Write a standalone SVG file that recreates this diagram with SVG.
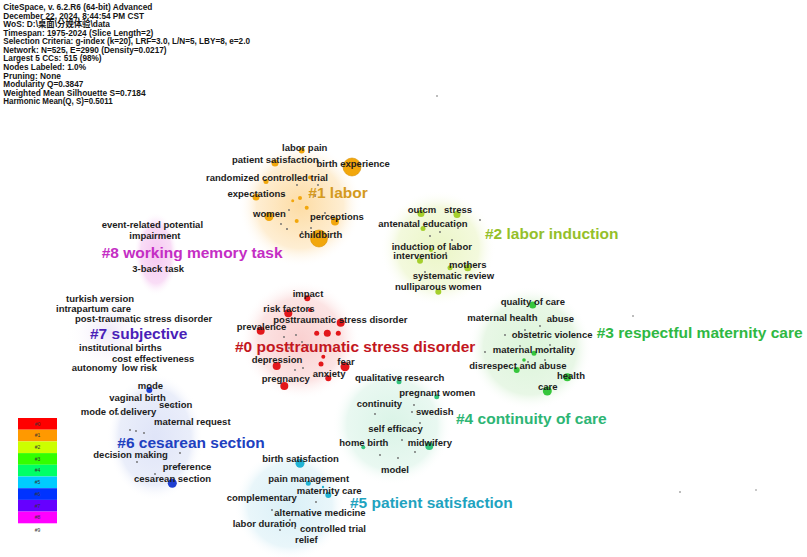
<svg xmlns="http://www.w3.org/2000/svg" width="807" height="557" viewBox="0 0 807 557">
<defs>
<style>
text{font-family:"Liberation Sans",Arial,sans-serif}
.hdr{font-size:8.6px;font-weight:bold;fill:#151515}
.lbl{font-size:9.5px;font-weight:bold;fill:#1c1c1c}
.cl{font-size:15.5px;font-weight:bold}
.d{fill:#6a6a6a}
.n0{fill:#e2171b}.n1{fill:#f2a70c}.n2{fill:#a5cf2c}.n3{fill:#36c63c}.n4{fill:#33c27c}.n5{fill:#22b3d4}.n6{fill:#1f3fd0}.n7{fill:#4a22b8}
.leg{font-size:5px;fill:#333;text-anchor:middle}
</style>
<radialGradient id="g0"><stop offset="0" stop-color="#fad0d0"/><stop offset="0.7" stop-color="#fce4e4"/><stop offset="1" stop-color="#fff" stop-opacity="0"/></radialGradient>
<radialGradient id="g1"><stop offset="0" stop-color="#fddca4"/><stop offset="0.7" stop-color="#feeed3"/><stop offset="1" stop-color="#fff" stop-opacity="0"/></radialGradient>
<radialGradient id="g2"><stop offset="0" stop-color="#ebf6c6"/><stop offset="0.7" stop-color="#f3f9dd"/><stop offset="1" stop-color="#fff" stop-opacity="0"/></radialGradient>
<radialGradient id="g3"><stop offset="0" stop-color="#dcf5da"/><stop offset="0.75" stop-color="#e8f7e6"/><stop offset="1" stop-color="#fff" stop-opacity="0"/></radialGradient>
<radialGradient id="g4"><stop offset="0" stop-color="#daf4e7"/><stop offset="0.75" stop-color="#e9f8f1"/><stop offset="1" stop-color="#fff" stop-opacity="0"/></radialGradient>
<radialGradient id="g5"><stop offset="0" stop-color="#daf0f7"/><stop offset="0.75" stop-color="#e9f6fa"/><stop offset="1" stop-color="#fff" stop-opacity="0"/></radialGradient>
<radialGradient id="g6"><stop offset="0" stop-color="#dfe4f8"/><stop offset="0.75" stop-color="#eaeefa"/><stop offset="1" stop-color="#fff" stop-opacity="0"/></radialGradient>
<radialGradient id="g7"><stop offset="0" stop-color="#eee7f8"/><stop offset="1" stop-color="#fff" stop-opacity="0"/></radialGradient>
<radialGradient id="g8"><stop offset="0" stop-color="#f6c8f2"/><stop offset="0.7" stop-color="#f9ddf6"/><stop offset="1" stop-color="#fff" stop-opacity="0"/></radialGradient>
</defs>
<rect width="807" height="557" fill="#ffffff"/>

<g id="header">
<text class="hdr" x="3.3" y="10" textLength="149" lengthAdjust="spacingAndGlyphs">CiteSpace, v. 6.2.R6 (64-bit) Advanced</text>
<text class="hdr" x="3.3" y="18.5" textLength="140.7" lengthAdjust="spacingAndGlyphs">December 22, 2024, 8:44:54 PM CST</text>
<text class="hdr" x="3.3" y="27" textLength="106.7" lengthAdjust="spacingAndGlyphs" style="font-family:'Liberation Sans','Noto Sans CJK SC',sans-serif">WoS: D:\桌面\分娩体验\data</text>
<text class="hdr" x="3.3" y="35.6" textLength="150" lengthAdjust="spacingAndGlyphs">Timespan: 1975-2024 (Slice Length=2)</text>
<text class="hdr" x="3.3" y="44.2" textLength="246.7" lengthAdjust="spacingAndGlyphs">Selection Criteria: g-index (k=20), LRF=3.0, L/N=5, LBY=8, e=2.0</text>
<text class="hdr" x="3.3" y="52.7" textLength="163.3" lengthAdjust="spacingAndGlyphs">Network: N=525, E=2990 (Density=0.0217)</text>
<text class="hdr" x="3.3" y="61.3" textLength="98.3" lengthAdjust="spacingAndGlyphs">Largest 5 CCs: 515 (98%)</text>
<text class="hdr" x="3.3" y="69.9" textLength="82.7" lengthAdjust="spacingAndGlyphs">Nodes Labeled: 1.0%</text>
<text class="hdr" x="3.3" y="78.5" textLength="57.7" lengthAdjust="spacingAndGlyphs">Pruning: None</text>
<text class="hdr" x="3.3" y="87" textLength="80" lengthAdjust="spacingAndGlyphs">Modularity Q=0.3847</text>
<text class="hdr" x="3.3" y="95.6" textLength="142.3" lengthAdjust="spacingAndGlyphs">Weighted Mean Silhouette S=0.7184</text>
<text class="hdr" x="3.3" y="104.2" textLength="109.3" lengthAdjust="spacingAndGlyphs">Harmonic Mean(Q, S)=0.5011</text>
</g>

<g id="cluster-areas">
<circle cx="300" cy="205" r="62" fill="url(#g1)"/>
<circle cx="438" cy="248" r="58" fill="url(#g2)"/>
<circle cx="530" cy="348" r="62" fill="url(#g3)"/>
<circle cx="300" cy="340" r="60" fill="url(#g0)"/>
<circle cx="392" cy="425" r="60" fill="url(#g4)"/>
<circle cx="290" cy="505" r="56" fill="url(#g5)"/>
<ellipse cx="155" cy="437" rx="48" ry="64" fill="url(#g6)"/>
<circle cx="108" cy="332" r="42" fill="url(#g7)"/>
<ellipse cx="156" cy="254" rx="22" ry="42" fill="url(#g8)"/>
</g>

<g id="connectors"></g>

<g id="minor-nodes">
<circle class="n1" cx="300" cy="198" r="2"/><circle class="n1" cx="306.7" cy="207.7" r="2"/><circle class="n1" cx="296.7" cy="221" r="2"/><circle class="n1" cx="292.7" cy="200.7" r="1.5"/><circle class="n1" cx="310" cy="177.5" r="2"/>
<circle class="d" cx="287" cy="229" r="1"/><circle class="d" cx="281" cy="224" r="0.9"/><circle class="d" cx="315" cy="196" r="0.9"/><circle class="d" cx="325" cy="213" r="0.9"/><circle class="d" cx="289" cy="210" r="0.9"/><circle class="d" cx="297" cy="185" r="0.9"/><circle class="d" cx="311" cy="228" r="0.9"/><circle class="d" cx="284" cy="195" r="0.9"/><circle class="d" cx="318" cy="185" r="0.9"/><circle class="d" cx="302" cy="232" r="0.9"/>
<circle class="n2" cx="431" cy="250" r="2"/><circle class="d" cx="430" cy="236" r="0.9"/><circle class="d" cx="440" cy="232" r="0.9"/><circle class="d" cx="452" cy="240" r="0.9"/><circle class="d" cx="446" cy="253" r="0.9"/><circle class="d" cx="415" cy="245" r="0.9"/><circle class="d" cx="458" cy="228" r="0.9"/><circle class="d" cx="425" cy="272" r="0.9"/><circle class="d" cx="480" cy="220" r="0.9"/>
<circle class="d" cx="525" cy="330" r="0.9"/><circle class="d" cx="540" cy="326" r="0.9"/><circle class="d" cx="520" cy="346" r="0.9"/><circle class="d" cx="550" cy="345" r="0.9"/><circle class="d" cx="528" cy="362" r="0.9"/><circle class="d" cx="545" cy="360" r="0.9"/><circle class="d" cx="505" cy="335" r="0.9"/><circle class="d" cx="485" cy="352" r="0.9"/><circle class="n3" cx="524" cy="360" r="1.8"/>
<circle class="n0" cx="316.7" cy="333.3" r="2.5"/><circle class="n0" cx="327.3" cy="333.3" r="3.5"/><circle class="n0" cx="338.3" cy="333.3" r="2.5"/><circle class="n0" cx="321" cy="364" r="2.5"/><circle class="n0" cx="323.3" cy="356.7" r="2"/><circle class="n0" cx="310" cy="310" r="2"/>
<circle class="d" cx="296" cy="335" r="0.9"/><circle class="d" cx="302" cy="342" r="0.9"/><circle class="d" cx="289" cy="348" r="0.9"/><circle class="d" cx="308" cy="345" r="0.9"/><circle class="d" cx="295" cy="370" r="0.9"/><circle class="d" cx="303" cy="368" r="0.9"/><circle class="d" cx="284" cy="337" r="0.9"/><circle class="d" cx="313" cy="322" r="0.9"/>
<circle class="d" cx="414" cy="405" r="0.9"/><circle class="d" cx="412" cy="412" r="0.9"/><circle class="d" cx="420" cy="423" r="0.9"/><circle class="d" cx="397" cy="430" r="0.9"/><circle class="d" cx="402" cy="440" r="0.9"/><circle class="d" cx="380" cy="455" r="0.9"/><circle class="d" cx="398" cy="458" r="0.9"/><circle class="d" cx="415" cy="452" r="0.9"/><circle class="d" cx="375" cy="414" r="0.9"/>
<circle class="n5" cx="323" cy="487" r="1.2"/><circle class="d" cx="316" cy="502" r="0.9"/><circle class="d" cx="290" cy="520" r="0.9"/><circle class="d" cx="305" cy="515" r="0.9"/><circle class="d" cx="280" cy="530" r="0.9"/><circle class="d" cx="295" cy="528" r="0.9"/><circle class="d" cx="272" cy="510" r="0.9"/>
<circle class="d" cx="173" cy="406" r="1"/><circle class="d" cx="118" cy="414" r="1"/><circle class="d" cx="130" cy="430" r="0.9"/><circle class="d" cx="136" cy="431" r="0.9"/><circle class="d" cx="144" cy="433" r="0.9"/><circle class="d" cx="180" cy="453" r="0.9"/><circle class="d" cx="178" cy="466" r="0.9"/><circle class="d" cx="155" cy="474" r="0.9"/><circle class="d" cx="137" cy="462" r="0.9"/>
<circle class="d" cx="100.7" cy="301" r="1"/><circle class="d" cx="75" cy="308.3" r="1"/><circle class="d" cx="135" cy="321.7" r="1"/><circle class="d" cx="147.3" cy="367.7" r="1"/>
<circle class="d" cx="437" cy="96" r="0.8"/><circle class="d" cx="633" cy="316" r="0.8"/><circle class="d" cx="680" cy="492" r="0.8"/><circle class="d" cx="756" cy="490" r="0.7"/>
</g>

<g id="n-labor-pain"><circle class="n1" cx="301.7" cy="150.5" r="3"/><text class="lbl" x="282" y="150.5">labor pain</text></g>
<g id="n-patient-satisfaction"><circle class="n1" cx="275" cy="163" r="3.5"/><text class="lbl" x="232" y="162.5">patient satisfaction</text></g>
<g id="n-birth-experience"><circle class="n1" cx="352" cy="167" r="9" stroke="#d99000" stroke-width="0.6"/><text class="lbl" x="316.5" y="167">birth experience</text></g>
<g id="n-randomized-controlled-trial"><circle class="n1" cx="266" cy="181.5" r="2.5"/><text class="lbl" x="206" y="181">randomized controlled trial</text></g>
<g id="n-expectations"><circle class="n1" cx="256" cy="197" r="3.5"/><text class="lbl" x="227.5" y="196.5">expectations</text></g>
<g id="n-women"><circle class="n1" cx="269" cy="216.5" r="4.5"/><text class="lbl" x="253" y="216.5">women</text></g>
<g id="n-perceptions"><circle class="n1" cx="335" cy="221.5" r="4"/><text class="lbl" x="310" y="220">perceptions</text></g>
<g id="n-childbirth"><circle class="n1" cx="319" cy="238.5" r="8.5" stroke="#d99000" stroke-width="0.6"/><text class="lbl" x="299" y="237.5">childbirth</text></g>
<g id="c1"><text class="cl" x="308.3" y="198.3" fill="#d49a20">#1 labor</text></g>

<g id="n-outcm"><circle class="n2" cx="421" cy="213.5" r="3.5"/><text class="lbl" x="407.7" y="212.5">outcm</text></g>
<g id="n-stress"><circle class="n2" cx="457" cy="214.5" r="3.5"/><text class="lbl" x="444" y="212.7">stress</text></g>
<g id="n-antenatal-education"><circle class="n2" cx="423" cy="228.5" r="2.5"/><text class="lbl" x="378.3" y="227.3">antenatal education</text></g>
<g id="n-induction-of-labor"><text class="lbl" x="391.7" y="249.5">induction of labor</text></g>
<g id="n-intervention"><circle class="n2" cx="420" cy="260.7" r="3"/><text class="lbl" x="393.3" y="259.3">intervention</text></g>
<g id="n-mothers"><circle class="n2" cx="450" cy="267.7" r="2.5"/><circle class="n2" cx="467.7" cy="267.7" r="3.5"/><text class="lbl" x="449" y="267.5">mothers</text></g>
<g id="n-systematic-review"><text class="lbl" x="412.7" y="279">systematic review</text></g>
<g id="n-nulliparous-women"><circle class="n2" cx="438.3" cy="291.7" r="3"/><text class="lbl" x="395" y="290">nulliparous women</text></g>
<g id="c2"><text class="cl" x="485" y="239" fill="#95bf2a">#2 labor induction</text></g>

<g id="n-quality-of-care"><circle class="n3" cx="532.7" cy="305" r="3.5"/><text class="lbl" x="500.7" y="305">quality of care</text></g>
<g id="n-maternal-health"><text class="lbl" x="467.3" y="321">maternal health</text></g>
<g id="n-abuse"><text class="lbl" x="546.7" y="321.5">abuse</text></g>
<g id="n-obstetric-violence"><text class="lbl" x="511.7" y="338.3">obstetric violence</text></g>
<g id="n-maternal-mortality"><circle class="n3" cx="534" cy="353.3" r="2.5"/><text class="lbl" x="492.7" y="353.3">maternal mortality</text></g>
<g id="n-disrespect-and-abuse"><circle class="n3" cx="516.7" cy="370" r="3"/><text class="lbl" x="469.3" y="368.8">disrespect and abuse</text></g>
<g id="n-health"><circle class="n3" cx="567.3" cy="377.3" r="4"/><text class="lbl" x="557" y="378.5">health</text></g>
<g id="n-care"><circle class="n3" cx="547.3" cy="391" r="4.5"/><text class="lbl" x="538" y="389.5">care</text></g>
<g id="c3"><text class="cl" x="596.7" y="338.3" fill="#2fb843">#3 respectful maternity care</text></g>

<g id="n-impact"><circle class="n0" cx="307.3" cy="298.3" r="3"/><text class="lbl" x="292.7" y="296.7">impact</text></g>
<g id="n-risk-factors"><circle class="n0" cx="288.3" cy="313.3" r="4"/><text class="lbl" x="263.3" y="311.7">risk factors</text></g>
<g id="n-posttraumatic-stress-disorder"><circle class="n0" cx="340.7" cy="322.7" r="4"/><text class="lbl" x="273.3" y="322.7">posttraumatic stress disorder</text></g>
<g id="n-prevalence"><circle class="n0" cx="260.7" cy="330.7" r="4"/><text class="lbl" x="236.7" y="330">prevalence</text></g>
<g id="n-depression"><circle class="n0" cx="276.7" cy="366" r="4"/><text class="lbl" x="251.7" y="363.3">depression</text></g>
<g id="n-fear"><circle class="n0" cx="345" cy="366.7" r="4.5"/><text class="lbl" x="337.3" y="365">fear</text></g>
<g id="n-anxiety"><circle class="n0" cx="328.3" cy="378.3" r="3"/><text class="lbl" x="312.7" y="377.3">anxiety</text></g>
<g id="n-pregnancy"><circle class="n0" cx="284.3" cy="386" r="4"/><text class="lbl" x="261.7" y="381.7">pregnancy</text></g>
<g id="c0"><text class="cl" x="235" y="351.7" fill="#c3161e">#0 posttraumatic stress disorder</text></g>

<g id="n-turkish-version"><text class="lbl" x="66" y="302.3">turkish version</text></g>
<g id="n-intrapartum-care"><text class="lbl" x="56" y="311.7">intrapartum care</text></g>
<g id="n-post-traumatic-stress-disorder"><text class="lbl" x="75" y="322.3">post-traumatic stress disorder</text></g>
<g id="n-institutional-births"><text class="lbl" x="79" y="351">institutional births</text></g>
<g id="n-cost-effectiveness"><text class="lbl" x="112" y="361.6">cost effectiveness</text></g>
<g id="n-autonomy"><text class="lbl" x="71.7" y="371">autonomy</text></g>
<g id="n-low-risk"><text class="lbl" x="121.7" y="371">low risk</text></g>
<g id="c7"><text class="cl" x="90" y="339" fill="#4a1fb8">#7 subjective</text></g>

<g id="n-event-related-potential"><text class="lbl" x="101.7" y="228.3">event-related potential</text></g>
<g id="n-impairment"><text class="lbl" x="129.3" y="239.3">impairment</text></g>
<g id="n-3-back-task"><text class="lbl" x="132.3" y="272.3">3-back task</text></g>
<g id="c8"><text class="cl" x="101.7" y="257.7" fill="#c42ec4">#8 working memory task</text></g>

<g id="n-mode"><circle class="n6" cx="149.3" cy="390" r="3"/><text class="lbl" x="137.7" y="389">mode</text></g>
<g id="n-vaginal-birth"><text class="lbl" x="109.3" y="401">vaginal birth</text></g>
<g id="n-section"><text class="lbl" x="159" y="408.3">section</text></g>
<g id="n-mode-of-delivery"><text class="lbl" x="80.7" y="415">mode of delivery</text></g>
<g id="n-maternal-request"><text class="lbl" x="154" y="425">maternal request</text></g>
<g id="n-decision-making"><text class="lbl" x="93.3" y="458.3">decision making</text></g>
<g id="n-preference"><text class="lbl" x="162.7" y="470">preference</text></g>
<g id="n-cesarean-section"><circle class="n6" cx="172.3" cy="483.3" r="4.5"/><text class="lbl" x="134" y="482.3">cesarean section</text></g>
<g id="c6"><text class="cl" x="117.3" y="447.7" fill="#2040c0">#6 cesarean section</text></g>

<g id="n-qualitative-research"><circle class="n4" cx="399" cy="381.7" r="2.5"/><text class="lbl" x="355" y="380.5">qualitative research</text></g>
<g id="n-pregnant-women"><circle class="n4" cx="436.7" cy="396.7" r="2.5"/><text class="lbl" x="399.3" y="396">pregnant women</text></g>
<g id="n-continuity"><text class="lbl" x="356.7" y="406.7">continuity</text></g>
<g id="n-swedish"><text class="lbl" x="416" y="415">swedish</text></g>
<g id="n-self-efficacy"><text class="lbl" x="368.3" y="431.7">self efficacy</text></g>
<g id="n-home-birth"><circle class="n4" cx="363.3" cy="447.3" r="2"/><text class="lbl" x="339.3" y="446">home birth</text></g>
<g id="n-midwifery"><circle class="n4" cx="429.3" cy="446" r="4"/><text class="lbl" x="407.7" y="446">midwifery</text></g>
<g id="n-model"><text class="lbl" x="381" y="473.3">model</text></g>
<g id="c4"><text class="cl" x="456" y="424" fill="#2db574">#4 continuity of care</text></g>

<g id="n-birth-satisfaction"><circle class="n5" cx="300" cy="463.3" r="4.5"/><text class="lbl" x="262.3" y="461.7">birth satisfaction</text></g>
<g id="n-pain-management"><circle class="n5" cx="308.3" cy="483.3" r="2.5"/><text class="lbl" x="268.3" y="482.3">pain management</text></g>
<g id="n-maternity-care"><circle class="n5" cx="328.3" cy="495" r="3"/><text class="lbl" x="296.7" y="494.3">maternity care</text></g>
<g id="n-complementary"><text class="lbl" x="226.7" y="501">complementary</text></g>
<g id="n-alternative-medicine"><text class="lbl" x="274.3" y="515.7">alternative medicine</text></g>
<g id="n-labor-duration"><text class="lbl" x="232.7" y="526.7">labor duration</text></g>
<g id="n-controlled-trial"><text class="lbl" x="300" y="532.3">controlled trial</text></g>
<g id="n-relief"><text class="lbl" x="295" y="543.3">relief</text></g>
<g id="c5"><text class="cl" x="350" y="508.3" fill="#1fa3bf">#5 patient satisfaction</text></g>

<g id="legend">
<rect x="18" y="418" width="39" height="11.7" fill="#ff0000"/>
<rect x="18" y="429.7" width="39" height="11.7" fill="#ff9900"/>
<rect x="18" y="441.4" width="39" height="11.7" fill="#ccff00"/>
<rect x="18" y="453.1" width="39" height="11.7" fill="#33ff00"/>
<rect x="18" y="464.8" width="39" height="11.7" fill="#00ff66"/>
<rect x="18" y="476.5" width="39" height="11.7" fill="#00ccff"/>
<rect x="18" y="488.2" width="39" height="11.7" fill="#0033ff"/>
<rect x="18" y="499.9" width="39" height="11.7" fill="#6600ff"/>
<rect x="18" y="511.6" width="39" height="11.7" fill="#ff00ff"/>
<text class="leg" x="37.5" y="425.6">#0</text>
<text class="leg" x="37.5" y="437.3">#1</text>
<text class="leg" x="37.5" y="449">#2</text>
<text class="leg" x="37.5" y="460.7">#3</text>
<text class="leg" x="37.5" y="472.4">#4</text>
<text class="leg" x="37.5" y="484.1">#5</text>
<text class="leg" x="37.5" y="495.8">#6</text>
<text class="leg" x="37.5" y="507.5">#7</text>
<text class="leg" x="37.5" y="519.2">#8</text>
<text class="leg" x="37.5" y="532">#9</text>
</g>
</svg>
